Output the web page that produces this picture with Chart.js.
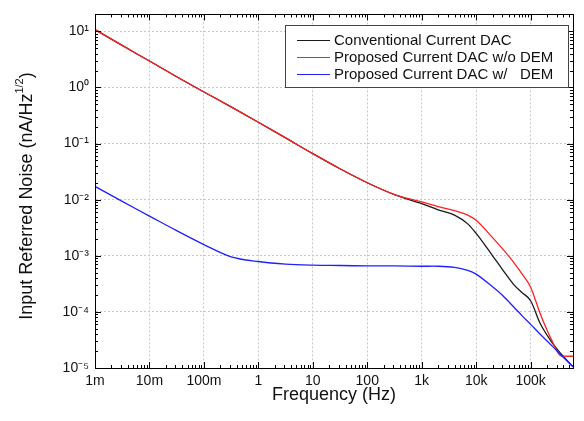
<!DOCTYPE html>
<html>
<head>
<meta charset="utf-8">
<script src="https://cdn.jsdelivr.net/npm/chart.js@4/dist/chart.umd.min.js"></script>
<style>
html,body{margin:0;padding:0;background:#fff}
#wrap{width:584px;height:421px}
</style>
</head>
<body>
<div id="wrap"><canvas id="c"></canvas></div>
<script>
// frequency points (Hz)
const freq=[1e-3,3.16e-3,1e-2,3.16e-2,0.1,0.316,1,3.16,10,31.6,100,316,1000,2000,4000,7000,1e4,2e4,3e4,5e4,7e4,1e5,1.5e5,2.5e5,3.6e5,6e5]
// noise, nA/Hz^1/2
const conventional=[10.7,5.6,2.95,1.55,0.83,0.45,0.24,0.126,0.066,0.0355,0.020,0.0123,0.0085,0.0066,0.0053,0.0037,0.0025,0.0010,0.00058,0.00030,0.00022,0.000158,6.2e-5,2.8e-5,1.8e-5,1.05e-5]
const proposedNoDem=[10.7,5.6,2.95,1.55,0.83,0.45,0.24,0.126,0.066,0.0355,0.020,0.0123,0.0091,0.0075,0.0064,0.0053,0.0043,0.0021,0.00135,0.00074,0.00047,0.000275,9.3e-5,3.0e-5,1.65e-5,1.62e-5]
const proposedDem=[0.0172,0.0093,0.0051,0.0028,0.00158,0.00096,0.00079,0.00071,0.00068,0.00067,0.00066,0.00066,0.00065,0.00065,0.00062,0.00055,0.00047,0.00028,0.0002,0.00012,8.5e-5,6.0e-5,4.0e-5,2.45e-5,1.7e-5,1.05e-5]

const xTicks=[1e-3,1e-2,1e-1,1,10,100,1e3,1e4,1e5]
const xTickLabels=["1m","10m","100m","1","10","100","1k","10k","100k"]
const yTicks=[1e-5,1e-4,1e-3,1e-2,1e-1,1,10]
const yTickLabels=["10\u207B\u2075","10\u207B\u2074","10\u207B\u00B3","10\u207B\u00B2","10\u207B\u00B9","10\u2070","10\u00B9"]

const pts=ys=>freq.map((f,i)=>({x:f,y:ys[i]}))
const FONT="'Liberation Sans', Arial, sans-serif"

// inner ticks on all four sides + closing frame
const frame={
id:"frame",
afterDraw(chart){
const {ctx,chartArea:a,scales:{x,y}}=chart
ctx.save()
ctx.strokeStyle="#000"
ctx.lineWidth=1
ctx.beginPath()
for(let d=-3;d<=5;d++){
for(let k=1;k<=9;k++){
const v=k*Math.pow(10,d)
if(v>x.max)continue
const px=Math.round(x.getPixelForValue(v))+0.5
const len=k==1?6:3
ctx.moveTo(px,a.bottom);ctx.lineTo(px,a.bottom-len)
ctx.moveTo(px,a.top);ctx.lineTo(px,a.top+len)
}}
for(let d=-5;d<=1;d++){
for(let k=1;k<=9;k++){
const v=k*Math.pow(10,d)
if(v>y.max)continue
const py=Math.round(y.getPixelForValue(v))+0.5
const len=k==1?6:3
ctx.moveTo(a.left,py);ctx.lineTo(a.left+len,py)
ctx.moveTo(a.right,py);ctx.lineTo(a.right-len,py)
}}
ctx.stroke()
ctx.strokeRect(Math.round(a.left)+0.5,Math.round(a.top)+0.5,Math.round(a.right-a.left),Math.round(a.bottom-a.top))

// y axis title with superscript
ctx.translate(27,196)
ctx.rotate(-Math.PI/2)
ctx.fillStyle="#111"
ctx.textBaseline="middle"
const main="Input Referred Noise (nA/Hz",sup="1/2",end=")"
ctx.font="18px "+FONT
const w1=ctx.measureText(main).width,w3=ctx.measureText(end).width
ctx.font="11px "+FONT
const w2=ctx.measureText(sup).width
let sx=-(w1+w2+w3)/2
ctx.font="18px "+FONT
ctx.fillText(main,sx,0)
ctx.font="11px "+FONT
ctx.fillText(sup,sx+w1,-7)
ctx.font="18px "+FONT
ctx.fillText(end,sx+w1+w2,0)
ctx.restore()

// legend box
ctx.save()
const bx=285,by=25,bw=283,bh=62
ctx.fillStyle="#fff"
ctx.fillRect(bx,by,bw,bh)
ctx.strokeStyle="#444"
ctx.strokeRect(bx+0.5,by+0.5,bw,bh)
ctx.font="15px "+FONT
ctx.textBaseline="middle"
chart.data.datasets.forEach((ds,i)=>{
const ry=Math.round(39.5+i*17.3)+0.5
ctx.strokeStyle=ds.borderColor
ctx.lineWidth=1.2
ctx.beginPath();ctx.moveTo(297,ry);ctx.lineTo(330,ry);ctx.stroke()
ctx.fillStyle="#111"
ctx.fillText(ds.label,334,ry+0.5)
})
ctx.restore()
}
}

new Chart(document.getElementById("c"),{
type:"line",
data:{datasets:[
{label:"Conventional Current DAC",data:pts(conventional),borderColor:"#1a1a1a",order:2},
{label:"Proposed Current DAC w/o DEM",data:pts(proposedNoDem),borderColor:"#ff2020",order:1},
{label:"Proposed Current DAC w/   DEM",data:pts(proposedDem),borderColor:"#2020ff",order:0,
cubicInterpolationMode:"default",tension:0.35}
]},
options:{
responsive:true,
maintainAspectRatio:false,
animation:false,
layout:{padding:{top:11,right:11,left:0,bottom:0}},
elements:{
line:{borderWidth:1.3,cubicInterpolationMode:"monotone",fill:false},
point:{radius:0,hoverRadius:0}
},
plugins:{legend:{display:false},tooltip:{enabled:false}},
scales:{
x:{
type:"logarithmic",
min:1e-3,max:6e5,
afterBuildTicks:s=>{s.ticks=xTicks.map(v=>({value:v}))},
afterFit:s=>{s.height=53},
ticks:{autoSkip:false,maxRotation:0,padding:5,color:"#111",font:{family:FONT,size:14},
callback:(v,i)=>xTickLabels[i]},
grid:{color:"#c8c8c8",lineWidth:1,drawTicks:false},
border:{display:true,color:"#000",width:1,dash:[2,2]},
title:{display:true,text:"Frequency (Hz)",color:"#111",font:{family:FONT,size:18},padding:{top:0,bottom:15}}
},
y:{
type:"logarithmic",
min:1e-5,max:20,
afterBuildTicks:s=>{s.ticks=yTicks.map(v=>({value:v}))},
afterFit:s=>{s.width=95},
ticks:{autoSkip:false,padding:6,color:"#111",font:{family:FONT,size:14},
callback:(v,i)=>yTickLabels[i]},
grid:{color:"#c8c8c8",lineWidth:1,drawTicks:false},
border:{display:true,color:"#000",width:1,dash:[2,2]}
}
}
},
plugins:[frame]
})
</script>
</body>
</html>
